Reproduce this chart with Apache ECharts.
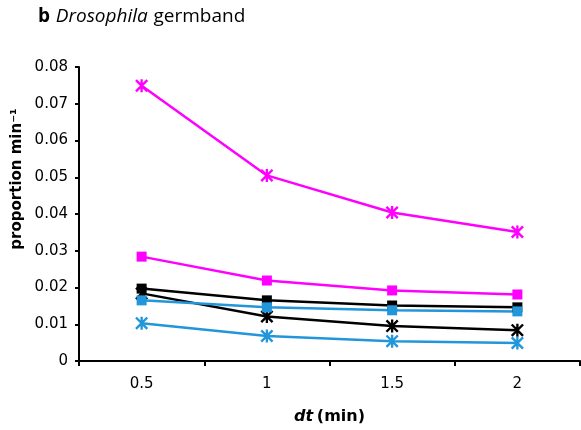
<!DOCTYPE html>
<html>
<head>
<meta charset="utf-8">
<script src="https://cdn.jsdelivr.net/npm/echarts@6/dist/echarts.min.js"></script>
<style>
  html, body { margin: 0; padding: 0; background: #fff; }
  #chart { width: 581px; height: 430px; }
</style>
</head>
<body>
<div id="chart"></div>
<script>
// values
const categories = ['0.5', '1', '1.5', '2'];
const magentaStar = [0.0749, 0.0505, 0.0404, 0.0351];
const magentaSquare = [0.0284, 0.0219, 0.0192, 0.0181];
const blackSquare = [0.0197, 0.0165, 0.0151, 0.0146];
const blackStar = [0.0184, 0.0121, 0.0095, 0.0084];
const blueSquare = [0.0165, 0.0146, 0.0138, 0.0135];
const blueStar = [0.0103, 0.0068, 0.0054, 0.0049];

const MAGENTA = '#ff00ff';
const BLACK = '#000000';
const BLUE = '#2196db';

// asterisk-like marker: vertical bar + X
const STAR = 'path://M4.1,0L5.9,0L5.9,10L4.1,10Z' +
  'M0,1.3L1.3,0L10,8.7L8.7,10Z' +
  'M8.7,0L10,1.3L1.3,10L0,8.7Z';

function line(name, data, color, star) {
  return {
    name: name,
    type: 'line',
    data: data,
    symbol: star ? STAR : 'rect',
    symbolSize: star ? 13 : 10,
    showAllSymbol: true,
    lineStyle: { color: color, width: 2.5 },
    itemStyle: { color: color },
    z: star ? 3 : 4
  };
}

const chart = echarts.init(document.getElementById('chart'));

chart.setOption({
  animation: false,
  textStyle: { fontFamily: 'DejaVu Sans' },
  title: {
    left: 38,
    top: 7,
    padding: 0,
    text: '{b|b} {i|Drosophila} {n|germband}',
    textStyle: {
      fontWeight: 'normal',
      rich: {
        b: { fontFamily: 'Open Sans', fontWeight: 'bold', fontSize: 19, color: '#000' },
        i: { fontFamily: 'Open Sans', fontStyle: 'italic', fontWeight: 'normal', fontSize: 19, color: '#000' },
        n: { fontFamily: 'Open Sans', fontWeight: 'normal', fontSize: 19, color: '#000' }
      }
    }
  },
  grid: { left: 79, right: 1, top: 67, bottom: 67 },
  xAxis: {
    type: 'category',
    data: categories,
    boundaryGap: true,
    axisLine: { lineStyle: { color: '#000', width: 2 } },
    axisTick: { show: true, length: 5, lineStyle: { color: '#000', width: 2 } },
    axisLabel: { color: '#000', fontSize: 15, margin: 16 },
    name: '{i|dt} {b|(min)}',
    nameLocation: 'middle',
    nameGap: 48,
    nameTextStyle: {
      rich: {
        i: { fontWeight: 'bold', fontStyle: 'italic', fontSize: 16, color: '#000' },
        b: { fontWeight: 'bold', fontSize: 16, color: '#000' }
      }
    }
  },
  yAxis: {
    type: 'value',
    min: 0,
    max: 0.08,
    interval: 0.01,
    splitLine: { show: false },
    axisLine: { show: true, lineStyle: { color: '#000', width: 2 } },
    axisTick: { show: true, length: 4, lineStyle: { color: '#000', width: 2 } },
    axisLabel: {
      color: '#000',
      fontSize: 15,
      margin: 11,
      formatter: v => (v === 0 ? '0' : v.toFixed(2))
    }
  },
  graphic: [{
    type: 'text',
    x: 17,
    y: 179,
    rotation: Math.PI / 2,
    style: {
      text: 'proportion min⁻¹',
      font: 'bold 15px "DejaVu Sans"',
      fill: '#000',
      align: 'center',
      verticalAlign: 'middle'
    }
  }],
  series: [
    line('magenta star', magentaStar, MAGENTA, true),
    line('magenta square', magentaSquare, MAGENTA, false),
    line('black star', blackStar, BLACK, true),
    line('black square', blackSquare, BLACK, false),
    line('blue star', blueStar, BLUE, true),
    line('blue square', blueSquare, BLUE, false)
  ]
});
</script>
</body>
</html>
